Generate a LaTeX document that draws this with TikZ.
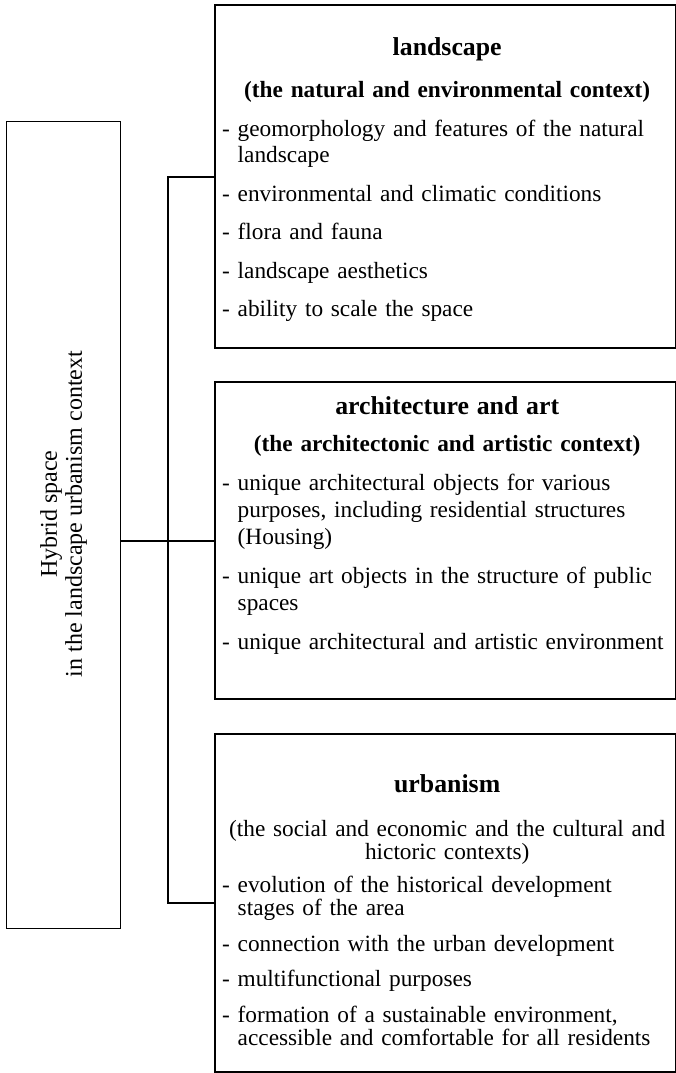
\documentclass[tikz,border=0pt]{standalone}
\usepackage{fontspec}
\setmainfont{Liberation Serif}
\usetikzlibrary{positioning}
\newlength{\dashwd}
\newcommand{\cattitle}[2]{{\centering\fontsize{25.8}{25.8}\selectfont\bfseries #1\par}\vspace{#2}}
\newcommand{\catsub}[1]{{\centering #1\par}}
\newcommand{\catitem}[1]{\hangindent=\dashwd\hangafter=1 - #1\par}
\tikzset{
	panel/.style={draw, line width=2.2pt, minimum width=461pt, inner sep=0pt, anchor=north west},
	paneltext/.style={text width=450pt, inner sep=0pt, font=\fontsize{23.3}{#1}\selectfont,
			execute at begin node={\setlength{\parindent}{0pt}\setlength{\parskip}{12pt}\settowidth{\dashwd}{- }\raggedright}},
	link/.style={line width=2.2pt}
}

\begin{document}
\begin{tikzpicture}[x=1pt, y=-1pt]
        \useasboundingbox (0,0) rectangle (676,1073);
        \node[draw, line width=1pt, minimum width=114pt, minimum height=807pt, inner sep=0pt, anchor=north west] (hybrid) at (6,121) {};
        \node[rotate=90, align=center, font=\fontsize{24}{25}\selectfont] (hybridtxt) at ([yshift=11pt]hybrid.center) {Hybrid space\\in the landscape urbanism context};

        \node[panel, minimum height=343pt] (land) at (214,4) {};
        \node[panel, minimum height=317pt] (arch) at (214,381) {};
        \node[panel, minimum height=338pt] (urb) at (214,733) {};

        \node[paneltext=26.5, below right=33pt and 8pt of land.north west] (landtxt) {%
            \cattitle{landscape}{4pt}
            \catsub{\bfseries (the natural and environmental context)}
            \catitem{geomorphology and features of the natural\newline landscape}
            \catitem{environmental and climatic conditions}
            \catitem{flora and fauna}
            \catitem{landscape aesthetics}
            \catitem{ability to scale the space}};
        \node[paneltext=27, below right=15pt and 8pt of arch.north west] (archtxt) {%
            \cattitle{architecture and art}{-2pt}
            \catsub{\bfseries (the architectonic and artistic context)}
            \catitem{unique architectural objects for various\newline purposes, including residential structures\newline (Housing)}
            \catitem{unique art objects in the structure of public\newline spaces}
            \catitem{unique architectural and artistic environment}};
        \node[paneltext=23.5, below right=41pt and 8pt of urb.north west] (urbtxt) {%
            \cattitle{urbanism}{8.5pt}
            \catsub{(the social and economic and the cultural and\\ hictoric contexts)}
            \vspace{-3pt}
            \catitem{evolution of the historical development\newline stages of the area}
            \catitem{connection with the urban development}
            \catitem{multifunctional purposes}
            \catitem{formation of a sustainable environment,\newline accessible and comfortable for all residents}};

        \coordinate (bus) at (168,0);
        \draw[link] (land.west) -- (bus |- land.west) -- (bus |- urb.west) -- (urb.west);
        \draw[link] (hybrid.east |- arch.west) -- (arch.west);
\end{tikzpicture}
\end{document}
